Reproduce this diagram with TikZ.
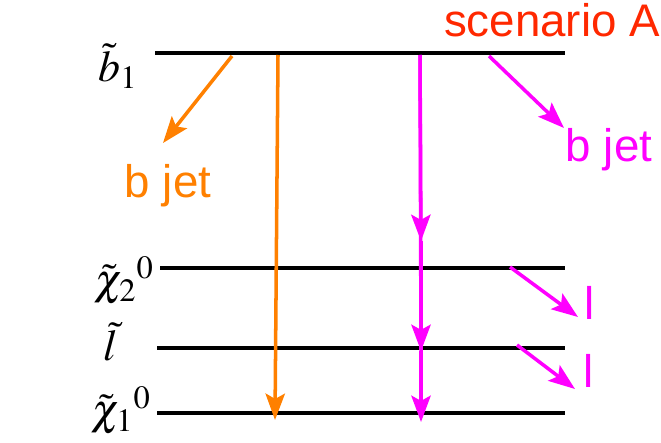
\documentclass[tikz,border=0pt]{standalone}
\usepackage{fontspec}
\usepackage{mathptmx}
\setmainfont{Liberation Sans}
\usetikzlibrary{arrows.meta}

\definecolor{jetorange}{RGB}{255,128,0}
\definecolor{scenred}{RGB}{255,40,0}
\definecolor{decmag}{RGB}{255,0,255}

\begin{document}
\begin{tikzpicture}[x=0.02cm, y=-0.02cm,
  level/.style={line width=2.2pt, black},
  lab/.style={font=\fontsize{25}{28}\selectfont, inner sep=0pt},
  txt/.style={font=\fontsize{26}{30}\selectfont, anchor=base, inner sep=0pt},
  oarr/.style={-{Stealth[length=15pt, width=11pt, inset=3pt]}, line width=2pt, jetorange},
  marr/.style={-{Stealth[length=15pt, width=11pt, inset=3pt]}, line width=2pt, decmag}
]
\useasboundingbox (0,0) rectangle (661,442);

% mass levels
\coordinate (b1l) at (155,53);  \coordinate (b1r) at (565,53);
\coordinate (n2l) at (160,268); \coordinate (n2r) at (565,268);
\coordinate (sll) at (157,348); \coordinate (slr) at (565,348);
\coordinate (n1l) at (157,413); \coordinate (n1r) at (565,413);
\draw[level] (b1l) -- (b1r);
\draw[level] (n2l) -- (n2r);
\draw[level] (sll) -- (slr);
\draw[level] (n1l) -- (n1r);

\node[lab] (lb1) at (118,66) {$\tilde{b}_1$};
\node[lab] (ln2) at (124,281) {$\tilde{\chi}_2{}^0$};
\node[lab] (lsl) at (111,342) {$\tilde{l}$};
\node[lab] (ln1) at (121,411) {$\tilde{\chi}_1{}^0$};

\node[txt, scenred] (scen) at (552,37) {scenario A};

% orange decay
\coordinate (oa) at (232,56);   \coordinate (ob) at (163,143);
\coordinate (oc) at (278,55);   \coordinate (od) at (275,420);
\draw[oarr] (oa) -- (ob);
\draw[oarr] (oc) -- (od);
\node[txt, jetorange] (ojet) at (168,197) {b jet};

% magenta cascade
\coordinate (ma) at (420,55);   \coordinate (mb) at (421,241);
\coordinate (mc) at (421,351);  \coordinate (md) at (421,422);
\draw[decmag, line width=2pt] (ma) -- (mc);
\draw[marr] (ma) -- (mb);
\draw[marr] (mb) -- (mc);
\draw[marr] (mc) -- (md);

\coordinate (ja) at (489,56);   \coordinate (jb) at (564,128);
\draw[marr] (ja) -- (jb);
\node[txt, decmag] (mjet) at (609,161) {b jet};

\coordinate (la) at (510,267);  \coordinate (lb) at (578,317);
\draw[marr] (la) -- (lb);
\node[txt, decmag] (l1) at (590,319) {l};

\coordinate (lc) at (517,345);  \coordinate (ld) at (575,389);
\draw[marr] (lc) -- (ld);
\node[txt, decmag] (l2) at (589,387) {l};
\end{tikzpicture}
\end{document}
